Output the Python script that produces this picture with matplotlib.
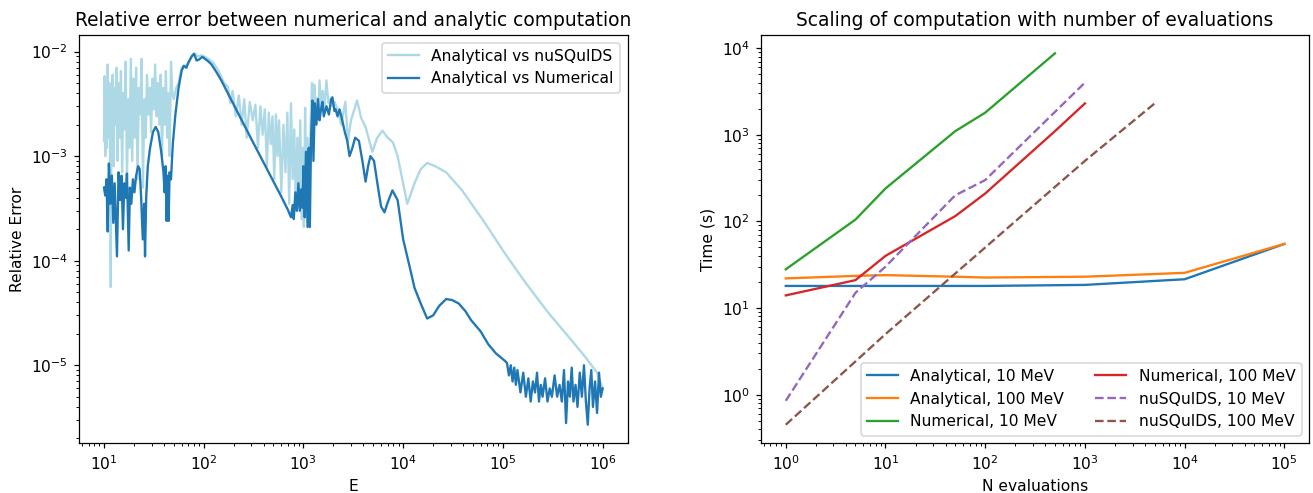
import matplotlib
matplotlib.use("Agg")
import matplotlib.pyplot as plt

# ---- left panel: relative error vs energy ----
E_NUM = [10.0, 10.3, 10.6, 10.9, 11.2, 11.6, 12.0, 12.4, 12.8, 13.5, 14.0, 14.5,
         15.0, 15.5, 16.0, 16.5, 17.0, 17.7, 18.2, 18.8, 19.5, 20.2, 21.0, 22.0,
         22.8, 23.6, 24.5, 25.3, 25.8, 26.5, 27.5, 29, 31, 33, 35, 37.5, 39.5,
         40.5, 41.5, 42.5, 43.5, 44.5, 45.5, 47, 49, 52, 56, 60, 63, 67, 71, 76,
         80, 85, 90, 97, 103, 112, 120, 135, 150, 200, 250, 300, 400, 500, 600,
         700, 750, 780, 800, 830, 860, 890, 920, 950, 980, 1000, 1030, 1060, 1100,
         1130, 1160, 1190, 1230, 1260, 1300, 1350, 1400, 1450, 1500, 1550, 1600,
         1700, 1800, 1900, 1950, 2050, 2100, 2200, 2300, 2400, 2600, 2750, 2900,
         3100, 3300, 3600, 3900, 4200, 4450, 4700, 5100, 5600, 6000, 6500, 7000,
         7800, 8800, 1.0e4, 1.16e4, 1.3e4, 1.5e4, 1.74e4, 2.0e4, 2.3e4, 2.7e4,
         3.1e4, 3.6e4, 4.2e4, 4.8e4, 6.0e4, 7.1e4, 8.5e4, 1.05e5, 1.1e5, 1.15e5,
         1.2e5, 1.25e5, 1.3e5, 1.35e5, 1.4e5, 1.5e5, 1.6e5, 1.7e5, 1.8e5, 1.9e5,
         2.0e5, 2.1e5, 2.2e5, 2.3e5, 2.4e5, 2.5e5, 2.65e5, 2.8e5, 2.95e5, 3.1e5,
         3.3e5, 3.5e5, 3.7e5, 3.9e5, 4.1e5, 4.3e5, 4.5e5, 4.7e5, 4.9e5, 5.1e5,
         5.35e5, 5.6e5, 5.9e5, 6.2e5, 6.5e5, 6.8e5, 7.1e5, 7.4e5, 7.7e5, 8.0e5,
         8.4e5, 8.8e5, 9.2e5, 9.6e5, 1.0e6]
ERR_NUM = [5.0e-4, 4.2e-4, 6.0e-4, 1.9e-4, 8.5e-4, 3.5e-4, 6.5e-4, 2.3e-4, 5.5e-4,
           1.1e-4, 7.0e-4, 3.8e-4, 6.5e-4, 2.0e-4, 5.5e-4, 4.0e-4, 6.8e-4, 1.25e-4,
           5.0e-4, 3.5e-4, 6.0e-4, 4.5e-4, 6.5e-4, 8.0e-4, 7.5e-4, 4.0e-4, 1.6e-4,
           3.5e-4, 1.1e-4, 4.0e-4, 8.0e-4, 1.2e-3, 1.7e-3, 1.9e-3, 1.7e-3, 1.1e-3,
           7.0e-4, 4.5e-4, 8.0e-4, 2.4e-4, 6.5e-4, 2.4e-4, 7.0e-4, 6.0e-4, 1.3e-3,
           2.5e-3, 4.5e-3, 6.5e-3, 7.3e-3, 7.0e-3, 8.0e-3, 9.0e-3, 9.5e-3, 8.2e-3,
           8.4e-3, 8.9e-3, 8.5e-3, 8.0e-3, 7.5e-3, 6.3e-3, 5.3e-3, 3.1e-3, 2.05e-3,
           1.46e-3, 8.6e-4, 5.7e-4, 4.1e-4, 3.05e-4, 2.6e-4, 3.4e-4, 2.5e-4, 4.5e-4,
           3.0e-4, 5.5e-4, 3.0e-4, 4.8e-4, 3.2e-4, 8.0e-4, 2.6e-4, 1.1e-3, 2.1e-4,
           1.2e-3, 2.1e-4, 1.3e-3, 3.4e-3, 9.0e-4, 3.2e-3, 2.0e-3, 3.5e-3, 2.2e-3,
           2.8e-3, 3.3e-3, 2.4e-3, 3.0e-3, 2.5e-3, 3.5e-3, 3.65e-3, 2.7e-3, 2.8e-3,
           2.4e-3, 2.8e-3, 2.4e-3, 1.7e-3, 1.4e-3, 1.0e-3, 1.2e-3, 1.5e-3, 1.4e-3,
           9.0e-4, 5.7e-4, 8.0e-4, 1.0e-3, 9.0e-4, 5.0e-4, 3.3e-4, 2.9e-4, 3.6e-4,
           4.7e-4, 3.8e-4, 1.6e-4, 8.8e-5, 5.5e-5, 3.9e-5, 2.8e-5, 3.0e-5, 3.7e-5,
           4.3e-5, 4.2e-5, 3.9e-5, 3.3e-5, 2.7e-5, 2.1e-5, 1.6e-5, 1.3e-5, 1.1e-5,
           1.05e-5, 8.0e-6, 1.0e-5, 7.0e-6, 9.5e-6, 6.5e-6, 9.0e-6, 5.5e-6, 8.5e-6,
           5.0e-6, 7.5e-6, 4.5e-6, 7.0e-6, 5.5e-6, 8.5e-6, 4.5e-6, 6.5e-6, 5.0e-6,
           7.5e-6, 4.5e-6, 6.0e-6, 5.0e-6, 8.0e-6, 5.0e-6, 6.5e-6, 4.5e-6, 9.0e-6,
           2.8e-6, 7.0e-6, 5.0e-6, 9.5e-6, 4.5e-6, 6.5e-6, 4.0e-6, 8.5e-6, 5.0e-6,
           1.0e-5, 4.5e-6, 2.7e-6, 6.0e-6, 9.0e-6, 4.0e-6, 7.0e-6, 3.5e-6, 8.5e-6,
           5.0e-6, 6.0e-6]

E_NSQ = [10.0, 10.15, 10.3, 10.5, 10.7, 10.9, 11.1, 11.4, 11.7, 11.9, 12.2, 12.5,
         12.8, 13.1, 13.4, 13.7, 14.0, 14.4, 14.8, 15.2, 15.6, 16.0, 16.5, 17.0,
         17.5, 18.0, 18.6, 19.2, 19.8, 20.4, 21.0, 21.7, 22.4, 23.1, 23.8, 24.6,
         25.4, 26.2, 27.0, 27.9, 28.8, 29.7, 30.6, 31.6, 32.6, 33.6, 34.7, 35.8,
         37.0, 38.2, 39.4, 40.6, 41.8, 43.0, 44.3, 45.6, 47.0, 48.5, 50, 53, 56,
         60, 64, 68, 72, 77, 81, 87, 95, 105, 115, 125, 140, 160, 175, 185, 195,
         210, 225, 240, 255, 270, 290, 310, 330, 350, 370, 390, 410, 430, 450, 470,
         490, 510, 530, 550, 570, 600, 630, 660, 690, 720, 750, 780, 810, 840, 870,
         900, 930, 960, 990, 1010, 1040, 1070, 1100, 1140, 1180, 1220, 1250, 1290,
         1330, 1370, 1410, 1450, 1500, 1560, 1620, 1700, 1780, 1850, 1950, 2050,
         2200, 2400, 2630, 2800, 3000, 3450, 3800, 4200, 4900, 5500, 6200, 7000,
         7900, 8800, 1.1e4, 1.3e4, 1.5e4, 1.74e4, 2.1e4, 2.7e4, 3.9e4, 6.4e4,
         1.05e5, 1.7e5, 2.8e5, 4.5e5, 6.7e5, 8.8e5, 1.0e6]
ERR_NSQ = [1.4e-3, 5.8e-3, 1.0e-3, 4.0e-3, 1.2e-3, 7.5e-3, 1.5e-3, 5.0e-3, 5.6e-5,
           3.0e-3, 6.0e-3, 8.0e-4, 4.5e-3, 2.0e-3, 7.0e-3, 9.0e-4, 5.0e-3, 1.5e-3,
           6.5e-3, 7.0e-4, 4.0e-3, 1.8e-3, 8.0e-3, 6.0e-4, 3.5e-3, 1.2e-3, 8.5e-3,
           9.0e-4, 5.5e-3, 1.5e-3, 7.0e-3, 6.0e-4, 4.5e-3, 2.5e-3, 8.5e-3, 5.0e-4,
           3.5e-3, 1.5e-3, 6.0e-3, 2.5e-3, 4.5e-3, 1.7e-3, 5.5e-3, 2.8e-3, 7.5e-3,
           2.4e-3, 5.0e-3, 2.0e-3, 6.0e-3, 1.0e-3, 4.5e-3, 2.0e-3, 6.5e-3, 1.5e-3,
           4.0e-3, 1.0e-3, 8.0e-3, 4.0e-3, 3.5e-3, 4.5e-3, 5.0e-3, 7.0e-3, 7.2e-3,
           7.5e-3, 8.3e-3, 9.3e-3, 9.6e-3, 9.0e-3, 9.2e-3, 8.8e-3, 8.3e-3, 7.8e-3,
           6.6e-3, 5.0e-3, 4.6e-3, 3.2e-3, 4.2e-3, 2.4e-3, 3.8e-3, 2.0e-3, 3.5e-3,
           1.5e-3, 3.3e-3, 2.2e-3, 3.1e-3, 1.2e-3, 3.0e-3, 1.6e-3, 2.8e-3, 8.0e-4,
           2.6e-3, 1.3e-3, 2.4e-3, 6.0e-4, 2.5e-3, 1.0e-3, 2.2e-3, 4.5e-4, 2.0e-3,
           7.0e-4, 2.6e-3, 3.5e-4, 3.2e-3, 6.0e-4, 1.8e-3, 3.0e-4, 1.5e-3, 4.5e-4,
           2.2e-3, 2.5e-4, 1.2e-3, 2.1e-4, 2.9e-3, 3.5e-4, 1.5e-3, 5.0e-4, 2.0e-3,
           5.0e-3, 1.2e-3, 4.8e-3, 2.2e-3, 3.6e-3, 2.6e-3, 5.3e-3, 3.0e-3, 4.2e-3,
           2.8e-3, 5.3e-3, 3.2e-3, 3.5e-3, 3.0e-3, 3.3e-3, 2.8e-3, 2.0e-3, 3.3e-3,
           1.4e-3, 2.2e-3, 3.4e-3, 2.3e-3, 1.9e-3, 1.1e-3, 1.5e-3, 1.75e-3, 1.5e-3,
           1.35e-3, 1.0e-3, 3.5e-4, 5.5e-4, 7.5e-4, 8.6e-4, 8.0e-4, 7.0e-4, 4.7e-4,
           2.4e-4, 1.17e-4, 6.1e-5, 3.25e-5, 1.9e-5, 1.2e-5, 8.5e-6, 6.0e-6]

# ---- right panel: timing vs number of evaluations ----
N_ANA = [1, 5, 10, 50, 100, 1000, 10000, 100000]
T_ANA_10 = [18, 18, 18, 18, 18, 18.5, 21.5, 55]
T_ANA_100 = [22, 23.5, 24, 23, 22.5, 23, 25.5, 55]
N_NUM_10 = [1, 5, 10, 50, 100, 500]
T_NUM_10 = [28, 105, 240, 1100, 1800, 8700]
N_NUM_100 = [1, 5, 10, 50, 100, 500, 1000]
T_NUM_100 = [14, 21, 40, 115, 210, 1100, 2300]
N_NSQ_10 = [1, 5, 10, 50, 100, 1000]
T_NSQ_10 = [0.85, 15, 30, 200, 300, 4000]
N_NSQ_100 = [1, 10, 100, 1000, 5000]
T_NSQ_100 = [0.45, 5, 50, 500, 2300]

DPI = 111.5
fig, (ax1, ax2) = plt.subplots(1, 2, figsize=(1313 / DPI, 493 / DPI), dpi=DPI)
fig.subplots_adjust(left=0.0602, right=0.9972, bottom=0.1008, top=0.9294, wspace=0.243)

ax1.loglog(E_NSQ, ERR_NSQ, color='lightblue', label='Analytical vs nuSQuIDS')
ax1.loglog(E_NUM, ERR_NUM, color='tab:blue', label='Analytical vs Numerical')
ax1.set_title('Relative error between numerical and analytic computation')
ax1.set_xlabel('E')
ax1.set_ylabel('Relative Error')
ax1.legend(loc='upper right')

ax2.loglog(N_ANA, T_ANA_10, label='Analytical, 10 MeV')
ax2.loglog(N_ANA, T_ANA_100, label='Analytical, 100 MeV')
ax2.loglog(N_NUM_10, T_NUM_10, label='Numerical, 10 MeV')
ax2.loglog(N_NUM_100, T_NUM_100, label='Numerical, 100 MeV')
ax2.loglog(N_NSQ_10, T_NSQ_10, '--', label='nuSQuIDS, 10 MeV')
ax2.loglog(N_NSQ_100, T_NSQ_100, '--', label='nuSQuIDS, 100 MeV')
ax2.set_title('Scaling of computation with number of evaluations')
ax2.set_xlabel('N evaluations')
ax2.set_ylabel('Time (s)')
ax2.legend(loc='lower right', ncol=2)

fig.savefig('out.png', dpi=DPI)
